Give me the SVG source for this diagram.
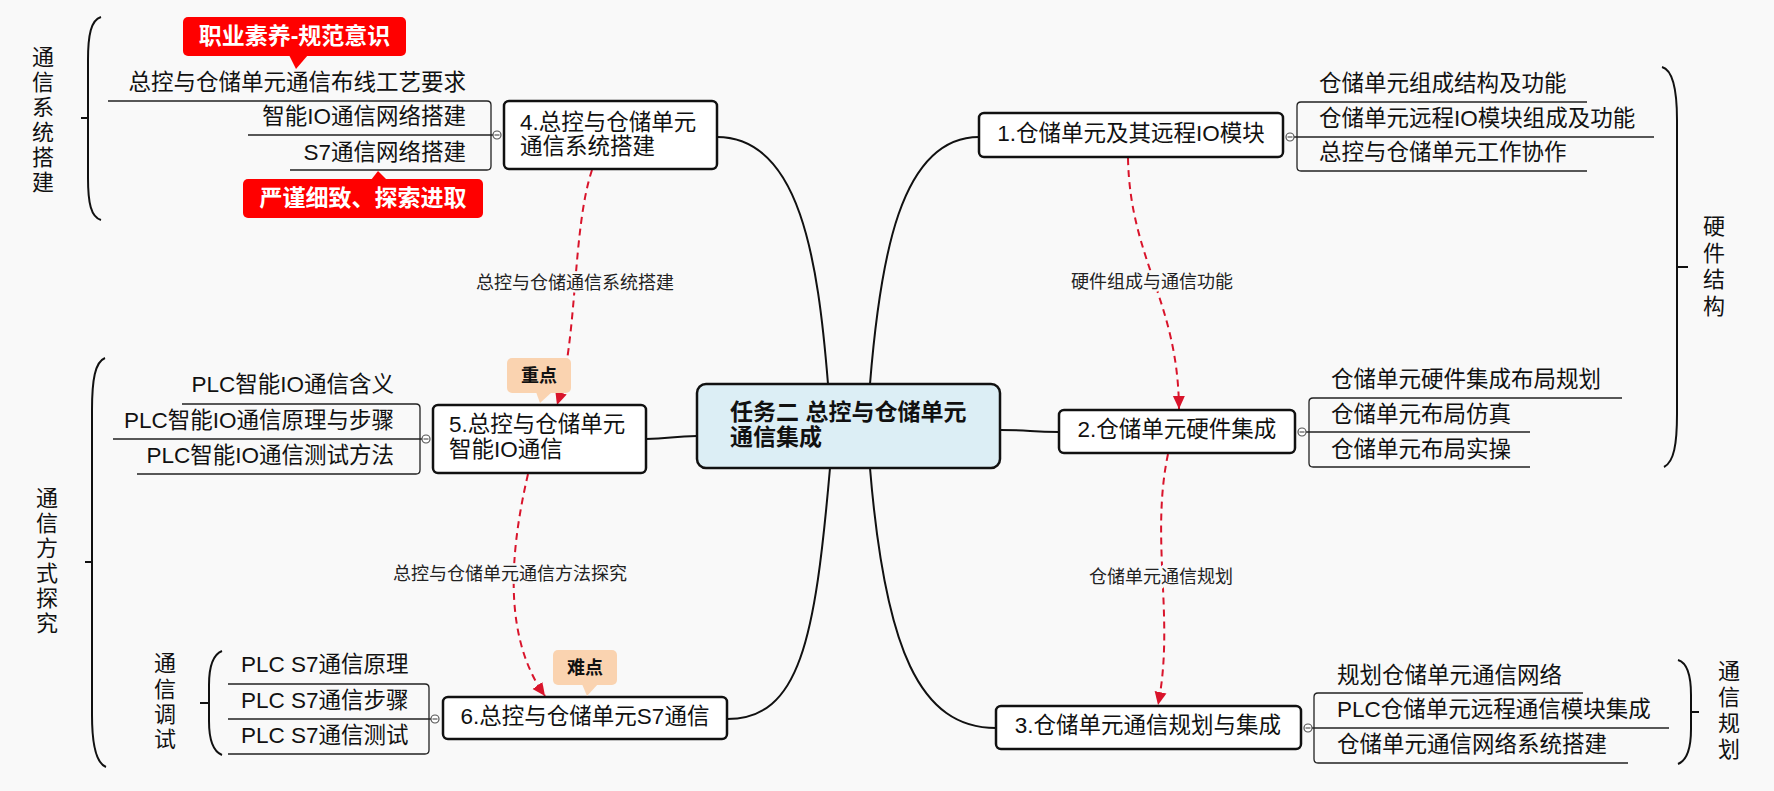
<svg xmlns="http://www.w3.org/2000/svg" width="1774" height="791" viewBox="0 0 1774 791">
<style>
text{font-family:"Liberation Sans","Noto Sans CJK SC",sans-serif;}
.bg{fill:#F9F9F9;}
.box{fill:#FFFFFF;stroke:#111;stroke-width:2.5;}
.center{fill:#DCEEF5;stroke:#111;stroke-width:2.5;}
.ntxt{font-size:22.5px;fill:#111;}
.ctxt{font-size:23px;font-weight:bold;fill:#111;}
.leaf{font-size:22.5px;fill:#111;}
.tree{fill:none;stroke:#222;stroke-width:1.3;}
.main{fill:none;stroke:#111;stroke-width:2;}
.dash{fill:none;stroke:#D9142B;stroke-width:2;stroke-dasharray:7 5;}
.lbl{font-size:18px;fill:#222;text-anchor:middle;stroke:#F9F9F9;stroke-width:5;paint-order:stroke;}
.knob{fill:#FFFFFF;stroke:#555;stroke-width:1.2;}
.knobl{stroke:#555;stroke-width:1.2;}
.brk{fill:none;stroke:#111;stroke-width:2;}
.vt{font-size:22px;fill:#111;text-anchor:middle;}
.red{fill:#FF0000;}
.redt{font-size:23px;font-weight:bold;fill:#FFFFFF;text-anchor:middle;}
.peach{fill:#FAD3B0;}
.peacht{font-size:18px;font-weight:bold;fill:#111;text-anchor:middle;}
</style>
<defs>
<marker id="arr" markerUnits="userSpaceOnUse" markerWidth="14" markerHeight="14" viewBox="0 0 14 14" refX="13" refY="7" orient="auto">
<path d="M0,1 L13,7 L0,13 Z" fill="#D9142B"/>
</marker>
</defs>
<rect class="bg" x="0" y="0" width="1774" height="791"/>

<g id="connectors">
<path class="main" d="M870,384 C880,260 900,137 979,137"/>
<path class="main" d="M828,384 C818,260 800,137 717,137"/>
<path class="main" d="M1000,430 C1030,430 1030,432 1059,432"/>
<path class="main" d="M697,436 C672,436 670,439 646,439"/>
<path class="main" d="M870,468 C885,650 920,728 996,728"/>
<path class="main" d="M830,468 C815,640 800,719 727,719"/>
<path class="dash" d="M1128,158 C1130,260 1178,300 1179,409" marker-end="url(#arr)"/>
<path class="dash" d="M1168,454 C1150,540 1175,620 1158,705" marker-end="url(#arr)"/>
<path class="dash" d="M592,170 C572,230 578,340 557,405" marker-end="url(#arr)"/>
<path class="dash" d="M528,474 C508,560 505,640 545,696" marker-end="url(#arr)"/>
<text class="lbl" x="1152" y="288">硬件组成与通信功能</text>
<text class="lbl" x="1161" y="583">仓储单元通信规划</text>
<text class="lbl" x="575" y="289">总控与仓储通信系统搭建</text>
<text class="lbl" x="510" y="580">总控与仓储单元通信方法探究</text>
</g>

<g id="central">
<rect class="center" x="697" y="384" width="303" height="84" rx="9"/>
<text class="ctxt" x="730" y="420">任务二 总控与仓储单元</text>
<text class="ctxt" x="730" y="445">通信集成</text>
</g>

<g id="node1">
<rect class="box" x="979" y="113" width="304" height="44" rx="5"/>
<text class="ntxt" x="1131" y="141" text-anchor="middle">1.仓储单元及其远程IO模块</text>
<path class="tree" d="M1587,102 H1301 Q1297,102 1297,106 V167 Q1297,171 1301,171 H1587 M1294,137 H1654"/>
<circle class="knob" cx="1290" cy="137" r="4"/>
<path class="knobl" d="M1287.5,137 H1292.5"/>
<text class="leaf" x="1319" y="91">仓储单元组成结构及功能</text>
<text class="leaf" x="1319" y="126">仓储单元远程IO模块组成及功能</text>
<text class="leaf" x="1319" y="160">总控与仓储单元工作协作</text>
</g>

<g id="node2">
<rect class="box" x="1059" y="410" width="236" height="43" rx="5"/>
<text class="ntxt" x="1177" y="437" text-anchor="middle">2.仓储单元硬件集成</text>
<path class="tree" d="M1622,398 H1313 Q1309,398 1309,402 V463 Q1309,467 1313,467 H1530 M1306,432 H1530"/>
<circle class="knob" cx="1302" cy="432" r="4"/>
<path class="knobl" d="M1299.5,432 H1304.5"/>
<text class="leaf" x="1331" y="387">仓储单元硬件集成布局规划</text>
<text class="leaf" x="1331" y="422">仓储单元布局仿真</text>
<text class="leaf" x="1331" y="457">仓储单元布局实操</text>
</g>

<g id="node3">
<rect class="box" x="996" y="706" width="305" height="43" rx="5"/>
<text class="ntxt" x="1148" y="733" text-anchor="middle">3.仓储单元通信规划与集成</text>
<path class="tree" d="M1583,693 H1318 Q1314,693 1314,697 V759 Q1314,763 1318,763 H1628 M1312,728 H1669"/>
<circle class="knob" cx="1308" cy="728" r="4"/>
<path class="knobl" d="M1305.5,728 H1310.5"/>
<text class="leaf" x="1337" y="683">规划仓储单元通信网络</text>
<text class="leaf" x="1337" y="717">PLC仓储单元远程通信模块集成</text>
<text class="leaf" x="1337" y="752">仓储单元通信网络系统搭建</text>
</g>

<g id="node4">
<rect class="box" x="504" y="101" width="213" height="68" rx="5"/>
<text class="ntxt" x="520" y="130">4.总控与仓储单元</text>
<text class="ntxt" x="520" y="154">通信系统搭建</text>
<path class="tree" d="M108,101 H487 Q491,101 491,105 V166 Q491,170 487,170 H290 M248,135 H493"/>
<circle class="knob" cx="497" cy="135" r="4"/>
<path class="knobl" d="M494.5,135 H499.5"/>
<text class="leaf" x="466" y="90" text-anchor="end">总控与仓储单元通信布线工艺要求</text>
<text class="leaf" x="466" y="124" text-anchor="end">智能IO通信网络搭建</text>
<text class="leaf" x="466" y="160" text-anchor="end">S7通信网络搭建</text>
</g>

<g id="node5">
<rect class="box" x="433" y="405" width="213" height="68" rx="5"/>
<text class="ntxt" x="449" y="432">5.总控与仓储单元</text>
<text class="ntxt" x="449" y="457">智能IO通信</text>
<path class="tree" d="M182,404 H416 Q420,404 420,408 V470 Q420,474 416,474 H137 M113,439 H422"/>
<circle class="knob" cx="426" cy="439" r="4"/>
<path class="knobl" d="M423.5,439 H428.5"/>
<text class="leaf" x="394" y="392" text-anchor="end">PLC智能IO通信含义</text>
<text class="leaf" x="394" y="428" text-anchor="end">PLC智能IO通信原理与步骤</text>
<text class="leaf" x="394" y="463" text-anchor="end">PLC智能IO通信测试方法</text>
</g>

<g id="node6">
<rect class="box" x="443" y="697" width="284" height="42" rx="5"/>
<text class="ntxt" x="585" y="724" text-anchor="middle">6.总控与仓储单元S7通信</text>
<path class="tree" d="M228,684 H425 Q429,684 429,688 V750 Q429,754 425,754 H228 M228,719 H431"/>
<circle class="knob" cx="435" cy="719" r="4"/>
<path class="knobl" d="M432.5,719 H437.5"/>
<text class="leaf" x="241" y="672">PLC S7通信原理</text>
<text class="leaf" x="241" y="708">PLC S7通信步骤</text>
<text class="leaf" x="241" y="743">PLC S7通信测试</text>
</g>

<g id="group-tongxin-xitong">
<path class="brk" d="M101,17 C91,20 88,35 88,60 L88,178 C88,203 91,217 101,220 M81,118 H88"/>
<text class="vt" x="43"><tspan x="43" y="65">通</tspan><tspan x="43" y="90">信</tspan><tspan x="43" y="115">系</tspan><tspan x="43" y="140">统</tspan><tspan x="43" y="165">搭</tspan><tspan x="43" y="190">建</tspan></text>
</g>

<g id="group-tongxin-fangshi">
<path class="brk" d="M105,358 C95,362 92,380 92,410 L92,715 C92,745 96,763 106,767 M85,562 H92"/>
<text class="vt" x="47"><tspan x="47" y="506">通</tspan><tspan x="47" y="531">信</tspan><tspan x="47" y="556">方</tspan><tspan x="47" y="581">式</tspan><tspan x="47" y="606">探</tspan><tspan x="47" y="631">究</tspan></text>
</g>

<g id="group-tongxin-tiaoshi">
<path class="brk" d="M222,651 C212,655 209,668 209,685 L209,721 C209,738 212,751 222,755 M200,703 H209"/>
<text class="vt" x="165"><tspan x="165" y="671">通</tspan><tspan x="165" y="697">信</tspan><tspan x="165" y="722">调</tspan><tspan x="165" y="747">试</tspan></text>
</g>

<g id="group-yingjian">
<path class="brk" d="M1662,67 C1673,70 1677,90 1677,120 L1677,414 C1677,444 1674,462 1664,467 M1677,267 H1688"/>
<text class="vt" x="1714"><tspan x="1714" y="234">硬</tspan><tspan x="1714" y="261">件</tspan><tspan x="1714" y="287">结</tspan><tspan x="1714" y="314">构</tspan></text>
</g>

<g id="group-tongxin-guihua">
<path class="brk" d="M1678,660 C1688,663 1691,678 1691,695 L1691,729 C1691,746 1688,760 1678,764 M1691,712 H1699"/>
<text class="vt" x="1729"><tspan x="1729" y="679">通</tspan><tspan x="1729" y="705">信</tspan><tspan x="1729" y="731">规</tspan><tspan x="1729" y="757">划</tspan></text>
</g>

<g id="callout-zhiye">
<rect class="red" x="183" y="17" width="223" height="39" rx="5"/>
<path class="red" d="M289,55 L296,69 L308,55 Z"/>
<text class="redt" x="294.5" y="44">职业素养-规范意识</text>
</g>

<g id="callout-yanjin">
<rect class="red" x="243" y="179" width="240" height="39" rx="5"/>
<path class="red" d="M371,180 L378,171 L387,180 Z"/>
<text class="redt" x="363" y="206">严谨细致、探索进取</text>
</g>

<g id="callout-zhongdian">
<rect class="peach" x="507" y="358" width="64" height="35" rx="5"/>
<path class="peach" d="M536,392 L540,403 L552,392 Z"/>
<text class="peacht" x="539" y="382">重点</text>
</g>

<g id="callout-nandian">
<rect class="peach" x="553" y="650" width="64" height="35" rx="5"/>
<path class="peach" d="M582,684 L587,696 L598,684 Z"/>
<text class="peacht" x="585" y="674">难点</text>
</g>
</svg>
